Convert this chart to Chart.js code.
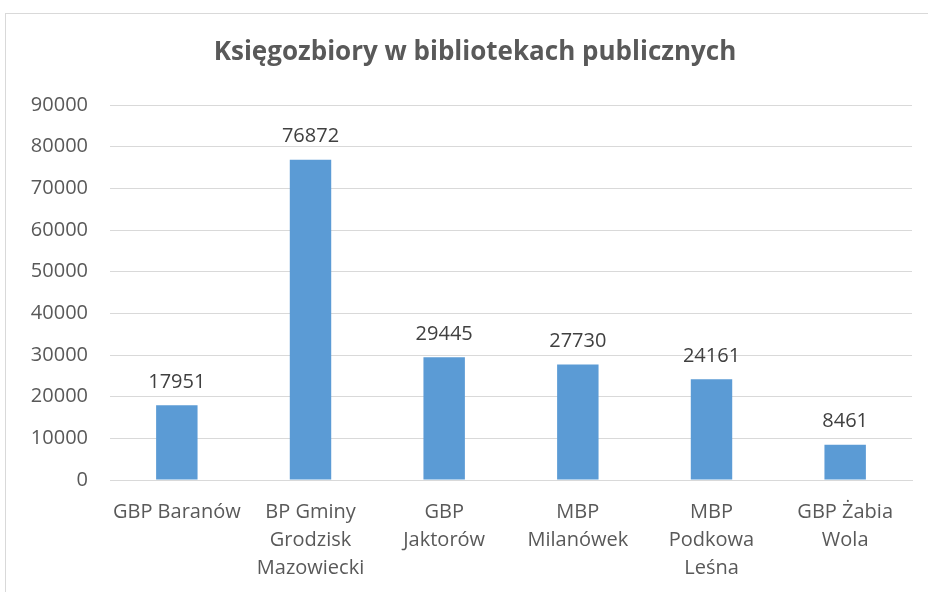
<!DOCTYPE html>
<html>
<head>
<meta charset="utf-8">
<script src="https://cdn.jsdelivr.net/npm/chart.js@4"></script>
<style>
  body { margin: 0; background: #fff; }
  #wrap { width: 928px; height: 592px; }
</style>
</head>
<body>
<div id="wrap"><canvas id="bookChart" width="928" height="592"></canvas></div>
<script>
// Book collections per library
const libraries = [
    ["GBP Baranów"],
    ["BP Gminy", "Grodzisk", "Mazowiecki"],
    ["GBP", "Jaktorów"],
    ["MBP", "Milanówek"],
    ["MBP", "Podkowa", "Leśna"],
    ["GBP Żabia", "Wola"]
];
const bookCounts = [17951, 76872, 29445, 27730, 24161, 8461];
const yTicks = [0, 10000, 20000, 30000, 40000, 50000, 60000, 70000, 80000, 90000];
const chartTitle = 'Księgozbiory w bibliotekach publicznych';

const fontFamily = "'Open Sans', 'DejaVu Sans', sans-serif";

// outer chart frame like the spreadsheet export, plus the title centred on the frame
const framePlugin = {
    id: 'frame',
    beforeDraw(chart) {
        const ctx = chart.ctx;
        ctx.save();
        ctx.fillStyle = '#fff';
        ctx.fillRect(0, 0, chart.width, chart.height);
        ctx.strokeStyle = '#d9d9d9';
        ctx.lineWidth = 1;
        ctx.strokeRect(5.5, 13.5, chart.width + 10, chart.height + 10);
        ctx.font = 'bold 26px ' + fontFamily;
        ctx.fillStyle = '#595959';
        ctx.textAlign = 'center';
        ctx.textBaseline = 'middle';
        ctx.fillText(chartTitle, 475, 53);
        ctx.restore();
    }
};

// value labels above each bar
const valueLabels = {
    id: 'valueLabels',
    afterDatasetsDraw(chart) {
        const ctx = chart.ctx;
        const meta = chart.getDatasetMeta(0);
        ctx.save();
        ctx.font = '20px ' + fontFamily;
        ctx.fillStyle = '#404040';
        ctx.textAlign = 'center';
        ctx.textBaseline = 'bottom';
        meta.data.forEach((bar, i) => {
            ctx.fillText(String(chart.data.datasets[0].data[i]), bar.x, bar.y - 13);
        });
        ctx.restore();
    }
};

const ctx = document.getElementById('bookChart').getContext('2d');
const bookChart = new Chart(ctx, {
    type: 'bar',
    data: {
        labels: libraries,
        datasets: [{
            label: 'Księgozbiory',
            data: bookCounts,
            backgroundColor: '#5b9bd5',
            borderWidth: 0,
            categoryPercentage: 1,
            barPercentage: 0.31
        }]
    },
    options: {
        responsive: false,
        animation: false,
        layout: { padding: { left: 0, right: 16, top: 105, bottom: 0 } },
        plugins: {
            legend: { display: false },
            tooltip: { enabled: false },
            title: { display: false }
        },
        scales: {
            x: {
                grid: { display: false, drawTicks: false },
                border: { color: '#d9d9d9' },
                ticks: {
                    color: '#595959',
                    font: { family: fontFamily, size: 20, lineHeight: 1.4 },
                    padding: 18,
                    maxRotation: 0,
                    autoSkip: false
                },
                afterFit(scale) { scale.height = 112; }
            },
            y: {
                min: 0,
                max: 90000,
                afterBuildTicks(scale) { scale.ticks = yTicks.map(v => ({ value: v })); },
                grid: { color: '#d9d9d9', drawTicks: false },
                border: { display: false },
                ticks: {
                    color: '#595959',
                    font: { family: fontFamily, size: 20 },
                    padding: 22,
                    callback: (v) => String(v)
                },
                afterFit(scale) { scale.width = 110; }
            }
        }
    },
    plugins: [framePlugin, valueLabels]
});
</script>
</body>
</html>
